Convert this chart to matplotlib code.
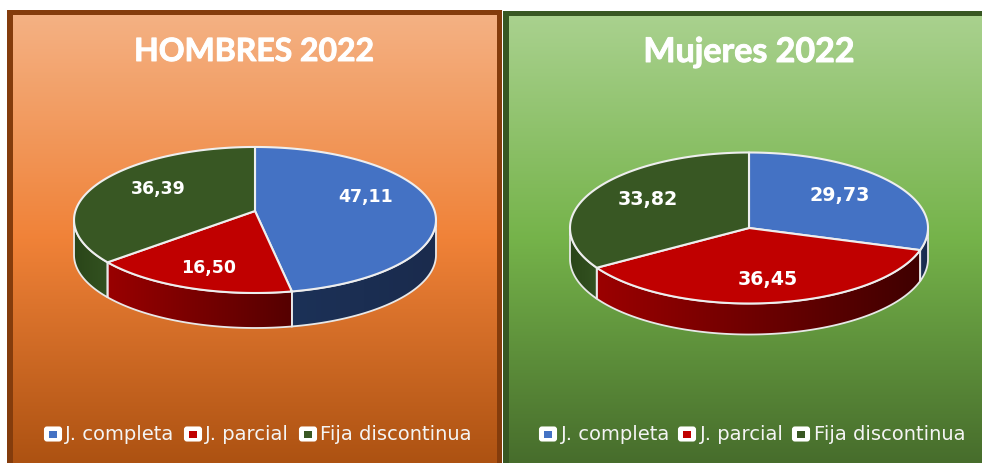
import numpy as np
import matplotlib
matplotlib.use('Agg')
import matplotlib.pyplot as plt
import matplotlib.patheffects as pe
from matplotlib.colors import LinearSegmentedColormap
from matplotlib.patches import Polygon, Rectangle, FancyBboxPatch

categories = ['J. completa', 'J. parcial', 'Fija discontinua']
hombres_values = [47.11, 16.50, 36.39]
mujeres_values = [29.73, 36.45, 33.82]
titles = ['HOMBRES 2022', 'Mujeres 2022']

top_colors = ['#4472c4', '#c00000', '#385723']

fig = plt.figure(figsize=(9.82, 4.63), dpi=100)
ax = fig.add_axes([0, 0, 1, 1])
ax.set_xlim(0, 982)
ax.set_ylim(463, 0)
ax.axis('off')


def gradient(extent, colors, clip=None, horizontal=False, zorder=1):
    cmap = LinearSegmentedColormap.from_list('g', colors)
    data = np.linspace(0, 1, 256)
    data = data.reshape(1, -1) if horizontal else data.reshape(-1, 1)
    im = ax.imshow(data, cmap=cmap, extent=extent, aspect='auto', zorder=zorder,
                   interpolation='bilinear')
    if clip is not None:
        im.set_clip_path(clip)
    return im


def panel(x0, x1, y0, y1, border, colors):
    ax.add_patch(Rectangle((x0, y0), x1 - x0, y1 - y0, fc=border, ec='none', zorder=0))
    gradient((x0 + 6, x1 - 5, 463, y0 + 5), colors)


def pie3d(values, cx, cy, rx, ry, k, depth, wall_colors, label_pos):
    # projective map of a tilted disc, k moves the apex off the ellipse centre
    def rim(t):
        u, v = np.sin(t), np.cos(t)
        d = 1 + k * v
        return cx + rx * u / d, cy - ry * v / d

    t_right = np.arccos(-k)
    t_left = 2 * np.pi - t_right
    edges = np.concatenate([[0], np.cumsum(values) / np.sum(values) * 2 * np.pi])

    for i in range(3):
        a, b = max(edges[i], t_right), min(edges[i + 1], t_left)
        if b <= a:
            continue
        t = np.linspace(a, b, 150)
        x, y = rim(t)
        pts = np.column_stack([np.r_[x, x[::-1]], np.r_[y, y[::-1] + depth]])
        wall = Polygon(pts, closed=True, fc='none', ec='none', zorder=2)
        ax.add_patch(wall)
        gradient((x.min(), x.max(), y.max() + depth, y.min()),
                 wall_colors[i], clip=wall, horizontal=True, zorder=2)
        ax.add_patch(Polygon(pts, closed=True, fc='none', ec='#e8e8e8', lw=1.3, zorder=3))

    for i in range(3):
        t = np.linspace(edges[i], edges[i + 1], 200)
        x, y = rim(t)
        pts = np.column_stack([np.r_[cx, x], np.r_[cy, y]])
        ax.add_patch(Polygon(pts, closed=True, fc=top_colors[i], ec='#eeeeee', lw=1.5,
                             joinstyle='round', zorder=4))
        ax.text(label_pos[i][0], label_pos[i][1], f'{values[i]:.2f}'.replace('.', ','),
                color='white', fontsize=label_pos[i][2], fontweight='bold',
                family='DejaVu Sans', ha='center', va='center', zorder=5)


def legend(box_xs, text_xs, y):
    for i, name in enumerate(categories):
        ax.add_patch(FancyBboxPatch((box_xs[i] + 1, y - 6.5), 16, 13,
                                    boxstyle='round,pad=0,rounding_size=2', fc='white',
                                    ec='white', lw=1.5, zorder=5))
        ax.add_patch(Rectangle((box_xs[i] + 5, y - 3.5), 8, 7, fc=top_colors[i], ec='none', zorder=6))
        ax.text(text_xs[i], y, name, color='#f4f4f4', fontsize=14, family='DejaVu Sans',
                ha='left', va='center', zorder=5)


panel(7, 502, 10, 463, '#843c0c', ['#f4b183', '#f08238', '#ad5212'])
panel(503, 990, 11, 463, '#385723', ['#a9d18e', '#75b34a', '#476d2c'])

pie3d(hombres_values, 255, 211, 179.6, 71.9, 0.123, 35,
      [['#1c3157', '#1a2b4d'], ['#990000', '#550000'], ['#2a4519', '#335220']],
      [(366, 197, 12.5), (209, 268, 12.5), (158, 189, 12.5)])
pie3d(mujeres_values, 749, 228, 179, 75.5, 0.0, 31,
      [['#1c3157', '#1a2b4d'], ['#9b0000', '#3f0000'], ['#2a4519', '#335220']],
      [(840, 195, 13.7), (768, 280, 13.7), (648, 199, 13.7)])

heavy = [pe.withStroke(linewidth=0.7, foreground='white')]
ax.text(254.5, 49, titles[0], color='white', fontsize=23, fontweight='bold', family='Lato',
        ha='center', va='center_baseline', zorder=5, path_effects=heavy)
ax.text(749, 49, titles[1], color='white', fontsize=24.5, fontweight='bold', family='Lato',
        ha='center', va='center_baseline', zorder=5, path_effects=heavy)

legend([44, 184, 299], [65, 205, 320], 434)
legend([539, 678, 792], [561, 700, 814], 434)

fig.savefig('out.png', dpi=100)
